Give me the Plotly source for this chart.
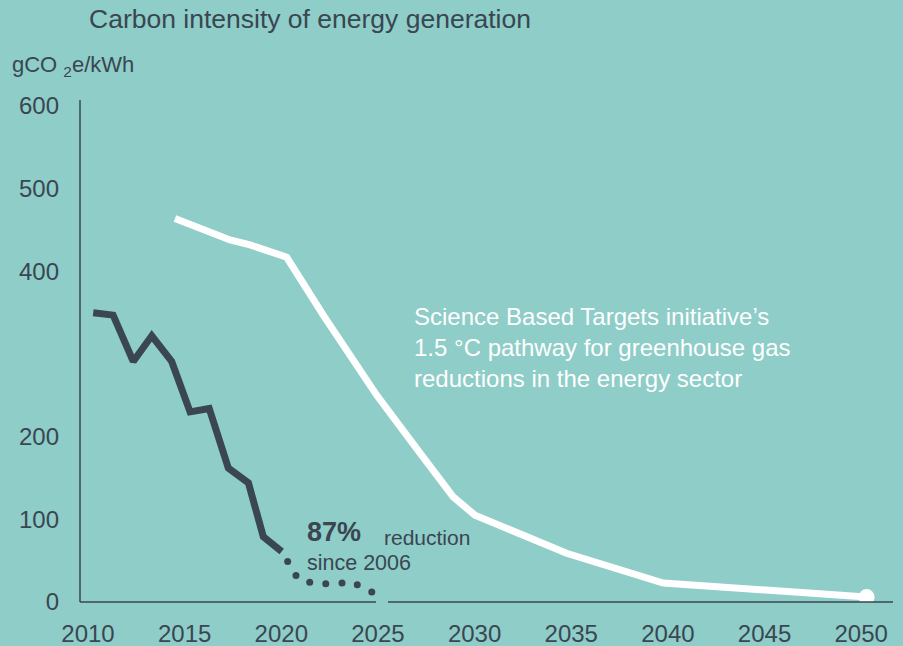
import plotly.graph_objects as go

# measured series (year, gCO2e/kWh)
actual_years = [2010.27, 2011.3, 2012.34, 2013.3, 2014.33, 2015.28, 2016.27, 2017.26, 2018.3, 2019.07, 2020.02]
actual_values = [350, 347, 291, 322, 291, 230, 234, 162, 144, 79, 61]

projected_years = [2020.33, 2020.76, 2021.47, 2022.3, 2023.14, 2023.93, 2024.68]
projected_values = [49, 32, 24, 22, 23, 21, 12]

sbti_years = [2014.5, 2015.45, 2017.35, 2018.38, 2019.42, 2020.28, 2022.17, 2024.94,
              2027.18, 2028.9, 2030.02, 2034.76, 2039.76, 2050.28]
sbti_values = [464, 456, 438, 432, 423, 417, 347, 250, 180, 127, 105, 59, 23, 6]

x_ticks = [2010, 2015, 2020, 2025, 2030, 2035, 2040, 2045, 2050]
y_ticks = [0, 100, 200, 400, 500, 600]

BG = "#8ecdc8"
DARK = "#3a4651"
FONT = "Liberation Sans, Arial, sans-serif"

W, H = 903, 646
L, R, T, B = 80, 10, 100, 44
PX_PER_YEAR = 19.33
X0 = 2010 - 8 / PX_PER_YEAR
X1 = X0 + (W - L - R) / PX_PER_YEAR
Y1 = (H - T - B) / 0.8267


def px_x(px):
    return X0 + (px - L) / PX_PER_YEAR


def px_y(py):
    return (H - B - py) / 0.8267


fig = go.Figure()

fig.add_scatter(x=sbti_years, y=sbti_values, mode="lines",
                line={"color": "white", "width": 7}, hoverinfo="skip")
fig.add_scatter(x=[sbti_years[-1]], y=[sbti_values[-1]], mode="markers",
                marker={"color": "white", "size": 16}, hoverinfo="skip")
fig.add_scatter(x=actual_years, y=actual_values, mode="lines",
                line={"color": DARK, "width": 7}, hoverinfo="skip")
fig.add_scatter(x=projected_years, y=projected_values, mode="markers",
                marker={"color": DARK, "size": 7}, hoverinfo="skip")

# axis lines (x axis has a small gap near 2025 like the original)
fig.add_shape(type="line", xref="paper", yref="paper", x0=0, x1=0, y0=0, y1=1,
              line={"color": DARK, "width": 1.5})
gap0 = (376 - L) / (W - L - R)
gap1 = (388 - L) / (W - L - R)
fig.add_shape(type="line", xref="paper", yref="paper", x0=0, x1=gap0, y0=0, y1=0,
              line={"color": DARK, "width": 1.5})
fig.add_shape(type="line", xref="paper", yref="paper", x0=gap1, x1=1, y0=0, y1=0,
              line={"color": DARK, "width": 1.5})

fig.add_annotation(x=px_x(412), y=px_y(347), xanchor="left", yanchor="middle",
                   text="Science Based Targets initiative’s<br>1.5 °C pathway for greenhouse gas<br>reductions in the energy sector",
                   showarrow=False, align="left", font={"color": "white", "size": 24, "family": FONT})
fig.add_annotation(x=px_x(305), y=px_y(532), xanchor="left", yanchor="middle",
                   text="<b>87%</b>", showarrow=False,
                   font={"color": DARK, "size": 27, "family": FONT})
fig.add_annotation(x=px_x(382), y=px_y(537), xanchor="left", yanchor="middle",
                   text="reduction", showarrow=False,
                   font={"color": DARK, "size": 21, "family": FONT})
fig.add_annotation(x=px_x(305), y=px_y(563), xanchor="left", yanchor="middle",
                   text="since 2006", showarrow=False,
                   font={"color": DARK, "size": 21.5, "family": FONT})

fig.add_annotation(xref="paper", yref="paper", x=(10 - L) / (W - L - R),
                   y=(H - B - 66) / (H - T - B), xanchor="left", yanchor="middle",
                   text="gCO <sub>2</sub>e/kWh", showarrow=False,
                   font={"color": DARK, "size": 22, "family": FONT})

fig.update_layout(
    width=W, height=H,
    paper_bgcolor=BG, plot_bgcolor=BG,
    margin={"l": L, "r": R, "t": T, "b": B, "autoexpand": False},
    showlegend=False,
    title={"text": "Carbon intensity of energy generation", "x": 89 / W, "xanchor": "left",
           "xref": "container", "y": 1 - 19 / H, "yanchor": "middle",
           "font": {"color": DARK, "size": 26.5, "family": FONT}},
    xaxis={"range": [X0, X1], "tickvals": x_ticks, "showgrid": False, "zeroline": False,
           "showline": False, "ticks": "", "ticklabelstandoff": 15, "automargin": False,
           "tickfont": {"color": DARK, "size": 24, "family": FONT}},
    yaxis={"range": [0, Y1], "tickvals": y_ticks, "showgrid": False, "zeroline": False,
           "showline": False, "ticks": "", "ticklabelstandoff": 20, "automargin": False,
           "tickfont": {"color": DARK, "size": 24, "family": FONT}},
)

fig.write_html("out.html", config={"displayModeBar": False},
               post_script="document.body.style.margin='0';")
